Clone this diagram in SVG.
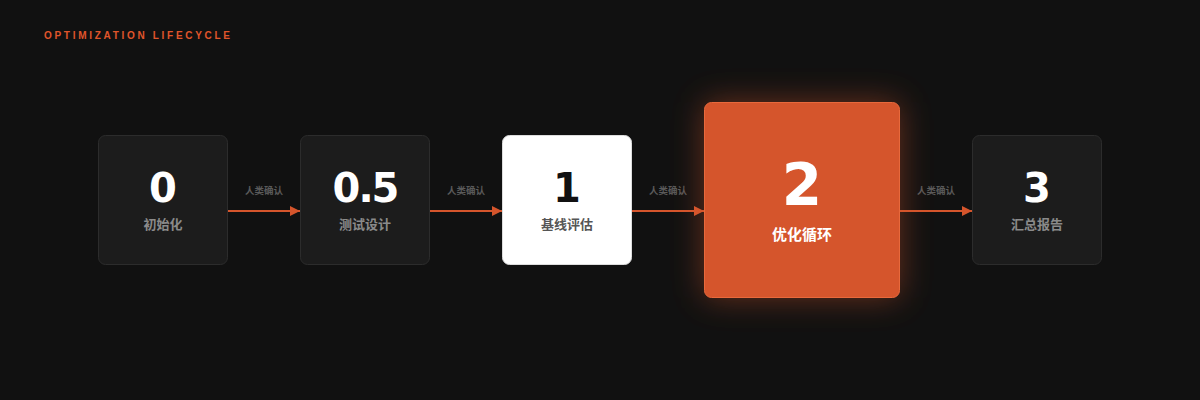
<svg xmlns="http://www.w3.org/2000/svg" width="1200" height="400" viewBox="0 0 1200 400">
  <defs>
    <filter id="glow" x="-50%" y="-50%" width="200%" height="200%">
      <feGaussianBlur in="SourceGraphic" stdDeviation="16"/>
    </filter>
    <marker id="arr" viewBox="0 0 10 10" refX="10" refY="5" markerWidth="5" markerHeight="5" orient="auto" markerUnits="strokeWidth">
      <path d="M0,0 L10,5 L0,10 Z" fill="#d5552c"/>
    </marker>
  </defs>
  <style>
    .title{font-family:"Liberation Sans",Arial,sans-serif;font-weight:700;font-size:10px;letter-spacing:2.7px;fill:#e0552b}
    .box{fill:#1c1c1c;stroke:#2c2c2c;stroke-width:1}
    .num{font-family:"DejaVu Sans",sans-serif;font-weight:700;text-anchor:middle}
    .lbl{font-family:"Noto Sans CJK SC",sans-serif;font-weight:700;text-anchor:middle}
    .edge{stroke:#d5552c;stroke-width:2;fill:none}
    .elbl{font-family:"Noto Sans CJK SC",sans-serif;font-weight:700;font-size:9.5px;fill:#5a5a5a;text-anchor:middle}
  </style>
  <rect width="1200" height="400" fill="#111111"/>
  <text class="title" x="44" y="39">OPTIMIZATION LIFECYCLE</text>

  <g id="connectors">
    <line class="edge" x1="228" y1="211" x2="300" y2="211" marker-end="url(#arr)"/>
    <text class="elbl" x="264" y="194">人类确认</text>
    <line class="edge" x1="430" y1="211" x2="502" y2="211" marker-end="url(#arr)"/>
    <text class="elbl" x="466" y="194">人类确认</text>
    <line class="edge" x1="632" y1="211" x2="704" y2="211" marker-end="url(#arr)"/>
    <text class="elbl" x="668" y="194">人类确认</text>
    <line class="edge" x1="900" y1="211" x2="972" y2="211" marker-end="url(#arr)"/>
    <text class="elbl" x="936" y="194">人类确认</text>
  </g>

  <g id="node0">
    <rect class="box" x="98.5" y="135.5" width="129" height="129" rx="7"/>
    <text class="num" x="163" y="202" font-size="40" fill="#ffffff">0</text>
    <text class="lbl" x="163" y="229" font-size="13" fill="#8a8a8a">初始化</text>
  </g>
  <g id="node05">
    <rect class="box" x="300.5" y="135.5" width="129" height="129" rx="7"/>
    <text class="num" x="365" y="202" font-size="40" fill="#ffffff" letter-spacing="-2">0.5</text>
    <text class="lbl" x="365" y="229" font-size="13" fill="#8a8a8a">测试设计</text>
  </g>
  <g id="node1">
    <rect x="502.5" y="135.5" width="129" height="129" rx="7" fill="#ffffff" stroke="#dddddd"/>
    <text class="num" x="567" y="202" font-size="40" fill="#111111">1</text>
    <text class="lbl" x="567" y="229" font-size="13" fill="#555555">基线评估</text>
  </g>
  <g id="node2">
    <rect x="704" y="102" width="196" height="196" rx="7" fill="#d5552c" opacity="0.45" filter="url(#glow)"/>
    <rect x="704.5" y="102.5" width="195" height="195" rx="7" fill="#d5552c" stroke="#e8693c"/>
    <text class="num" x="802" y="205" font-size="58" fill="#ffffff">2</text>
    <text class="lbl" x="802" y="240" font-size="15" fill="#ffffff">优化循环</text>
  </g>
  <g id="node3">
    <rect class="box" x="972.5" y="135.5" width="129" height="129" rx="7"/>
    <text class="num" x="1037" y="202" font-size="40" fill="#ffffff">3</text>
    <text class="lbl" x="1037" y="229" font-size="13" fill="#8a8a8a">汇总报告</text>
  </g>
</svg>
